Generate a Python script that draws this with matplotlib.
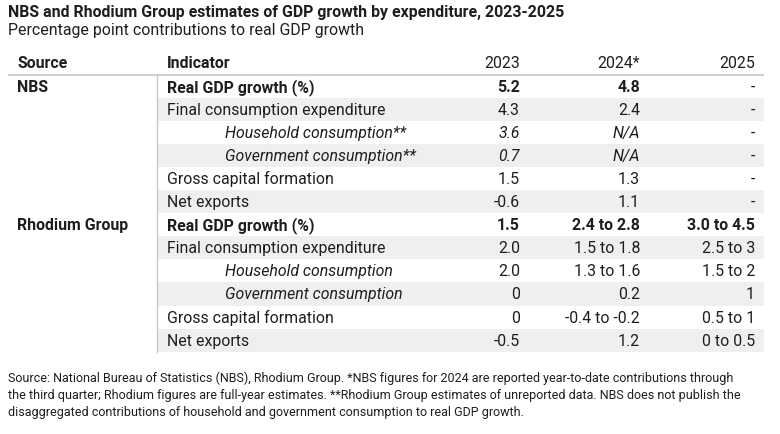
import matplotlib
matplotlib.use("Agg")
import matplotlib.pyplot as plt
from matplotlib import font_manager as fm

W, H = 780, 435
title = "NBS and Rhodium Group estimates of GDP growth by expenditure, 2023-2025"
subtitle = "Percentage point contributions to real GDP growth"
headers = ["Source", "Indicator", "2023", "2024*", "2025"]
sources = ["NBS", "Rhodium Group"]
indicators = [
    "Real GDP growth (%)", "Final consumption expenditure",
    "Household consumption", "Government consumption",
    "Gross capital formation", "Net exports",
]
nbs_suffix = ["", "", "**", "**", "", ""]
nbs_2023 = ["5.2", "4.3", "3.6", "0.7", "1.5", "-0.6"]
nbs_2024 = ["4.8", "2.4", "N/A", "N/A", "1.3", "1.1"]
nbs_2025 = ["-", "-", "-", "-", "-", "-"]
rg_2023 = ["1.5", "2.0", "2.0", "0", "0", "-0.5"]
rg_2024 = ["2.4 to 2.8", "1.5 to 1.8", "1.3 to 1.6", "0.2", "-0.4 to -0.2", "1.2"]
rg_2025 = ["3.0 to 4.5", "2.5 to 3", "1.5 to 2", "1", "0.5 to 1", "0 to 0.5"]
footnote = ("Source: National Bureau of Statistics (NBS), Rhodium Group. *NBS figures for 2024 are reported year-to-date contributions through\n"
            "the third quarter; Rhodium figures are full-year estimates. **Rhodium Group estimates of unreported data. NBS does not publish the\n"
            "disaggregated contributions of household and government consumption to real GDP growth.")

installed = {f.name for f in fm.fontManager.ttflist}
main_font = "Roboto" if "Roboto" in installed else "DejaVu Sans"

fig = plt.figure(figsize=(W / 100, H / 100), dpi=100)
ax = fig.add_axes([0, 0, 1, 1])
ax.set_xlim(0, W)
ax.set_ylim(H, 0)
ax.axis("off")

txt = "#1e1e1e"
ax.text(8, 12, title, fontsize=11.4, fontweight="bold", color=txt, va="center", ha="left", family=main_font)
ax.text(8, 30, subtitle, fontsize=11.4, color=txt, va="center", ha="left", family=main_font)

x_src, x_ind, x_sub = 17, 167, 225
x_cols = [520, 640, 755]
fs = 11.4
hdr_y = 64
for h, x, ha in zip(headers, [x_src, x_ind] + x_cols, ["left", "left", "right", "right", "right"]):
    ax.text(x, hdr_y, h, fontsize=fs, fontweight="bold" if h in ("Source", "Indicator") else "normal",
            color=txt, va="center", ha=ha, family=main_font)

row_h = 23.1
top = 75.5
ax.plot([8, 764], [top, top], color="#d0d0d0", lw=1.5, solid_capstyle="butt")

rows = []
for s_i, (s, c23, c24, c25) in enumerate([(sources[0], nbs_2023, nbs_2024, nbs_2025),
                                           (sources[1], rg_2023, rg_2024, rg_2025)]):
    for i, ind in enumerate(indicators):
        suffix = nbs_suffix[i] if s_i == 0 else ""
        rows.append((s if i == 0 else "", ind + suffix, i, s_i, c23[i], c24[i], c25[i]))

for r, (src, ind, i, s_i, a, b, c) in enumerate(rows):
    y0 = top + r * row_h
    yc = y0 + row_h / 2
    if r % 2 == 1:
        ax.axhspan(y0, y0 + row_h, xmin=157 / W, xmax=764 / W, color="#efefef", lw=0, zorder=0)
    if src:
        ax.text(x_src, yc, src, fontsize=fs, fontweight="bold", color=txt, va="center", family=main_font)
    bold = "bold" if i == 0 else "normal"
    italic = "italic" if i in (2, 3) else "normal"
    xi = x_sub if i in (2, 3) else x_ind
    ax.text(xi, yc, ind, fontsize=fs, fontweight=bold, style=italic, color=txt, va="center", family=main_font)
    vital = italic if s_i == 0 else "normal"
    for k, (val, xc) in enumerate(zip([a, b, c], x_cols)):
        w = bold if val != "-" else "normal"
        st = vital if val != "-" else "normal"
        ax.text(xc, yc, val, fontsize=fs, fontweight=w, style=st, color=txt, va="center", ha="right", family=main_font)

ax.plot([157, 157], [top, top + 12 * row_h], color="#c8c8c8", lw=1.0)

ax.text(8, 372, footnote, fontsize=9.0, color=txt, va="top", ha="left", family=main_font, linespacing=1.4)

fig.savefig("out.png", dpi=100)
